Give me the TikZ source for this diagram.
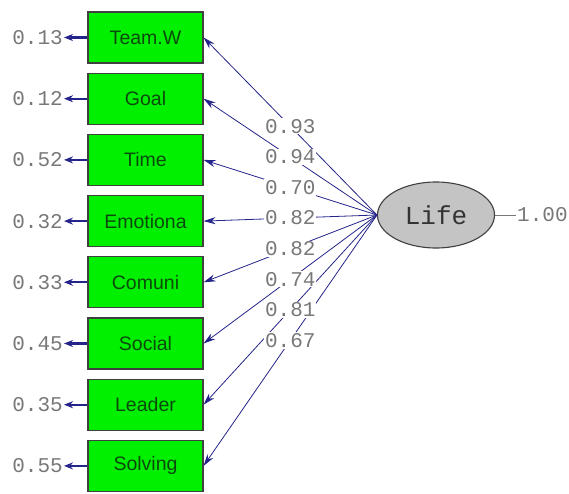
\documentclass[tikz,border=0pt]{standalone}
\usepackage{fontspec}
\setmainfont{Liberation Sans}
\newfontfamily\monofont{Liberation Mono}
\usetikzlibrary{arrows.meta}
\definecolor{boxgreen}{HTML}{00F000}
\definecolor{boxtext}{HTML}{0B4A0B}
\definecolor{pathblue}{HTML}{24248A}
\definecolor{numgray}{HTML}{787878}
\definecolor{latgray}{HTML}{C4C4C4}
\definecolor{edgegray}{HTML}{404040}
\tikzset{
  indicator/.style={draw=edgegray, line width=1.1pt, fill=boxgreen,
    minimum width=115pt, minimum height=51pt, inner sep=0pt,
    text=boxtext, font=\fontsize{19.5}{19.5}\selectfont},
  latent/.style={ellipse, draw=edgegray, line width=1.1pt, fill=latgray,
    minimum width=117pt, minimum height=66pt, inner sep=0pt,
    font=\monofont\fontsize{26}{26}\selectfont, text=black!80},
  numlabel/.style={font=\monofont\fontsize{21}{21}\selectfont, text=numgray, inner sep=1pt},
  loading/.style={draw=pathblue, line width=0.8pt,
    -{Stealth[length=12pt,width=7pt]}},
  errarrow/.style={draw=pathblue, line width=2.2pt,
    -{Stealth[length=9pt,width=7pt]}},
}
\usetikzlibrary{shapes.geometric}
\begin{document}
\begin{tikzpicture}[x=1pt, y=-1pt]
  \useasboundingbox (0,0) rectangle (569,493);

  % latent variable
  \node[latent] (life) at (436,215) {Life};
  \node[numlabel, anchor=west] (lvar) at (516,215) {1.00};
  \draw[numgray, line width=0.6pt] (life.east) -- (lvar.west);

  % indicators with their error variances
  \foreach \i/\name/\err in {1/Team.W/0.13, 2/Goal/0.12, 3/Time/0.52,
      4/Emotiona/0.32, 5/Comuni/0.33, 6/Social/0.45, 7/Leader/0.35, 8/Solving/0.55} {
    \node[indicator] (b\i) at (145.5, {37.5 + (\i-1)*61.2}) {\name};
    \node[numlabel, anchor=east] (e\i) at (64, {37.5 + (\i-1)*61.2}) {\err};
    \draw[errarrow] (b\i.west) -- (e\i.east);
  }

  % loadings: lines first, then the values on top
  \foreach \i in {1,...,8} {
    \draw[loading] (life.west) -- (b\i.east);
  }
  \foreach \i/\v in {1/0.93, 2/0.94, 3/0.70, 4/0.82, 5/0.82, 6/0.74, 7/0.81, 8/0.67} {
    \path (life.west) -- (b\i.east) node[numlabel, fill=white, midway] (l\i) {\v};
  }
\end{tikzpicture}
\end{document}
